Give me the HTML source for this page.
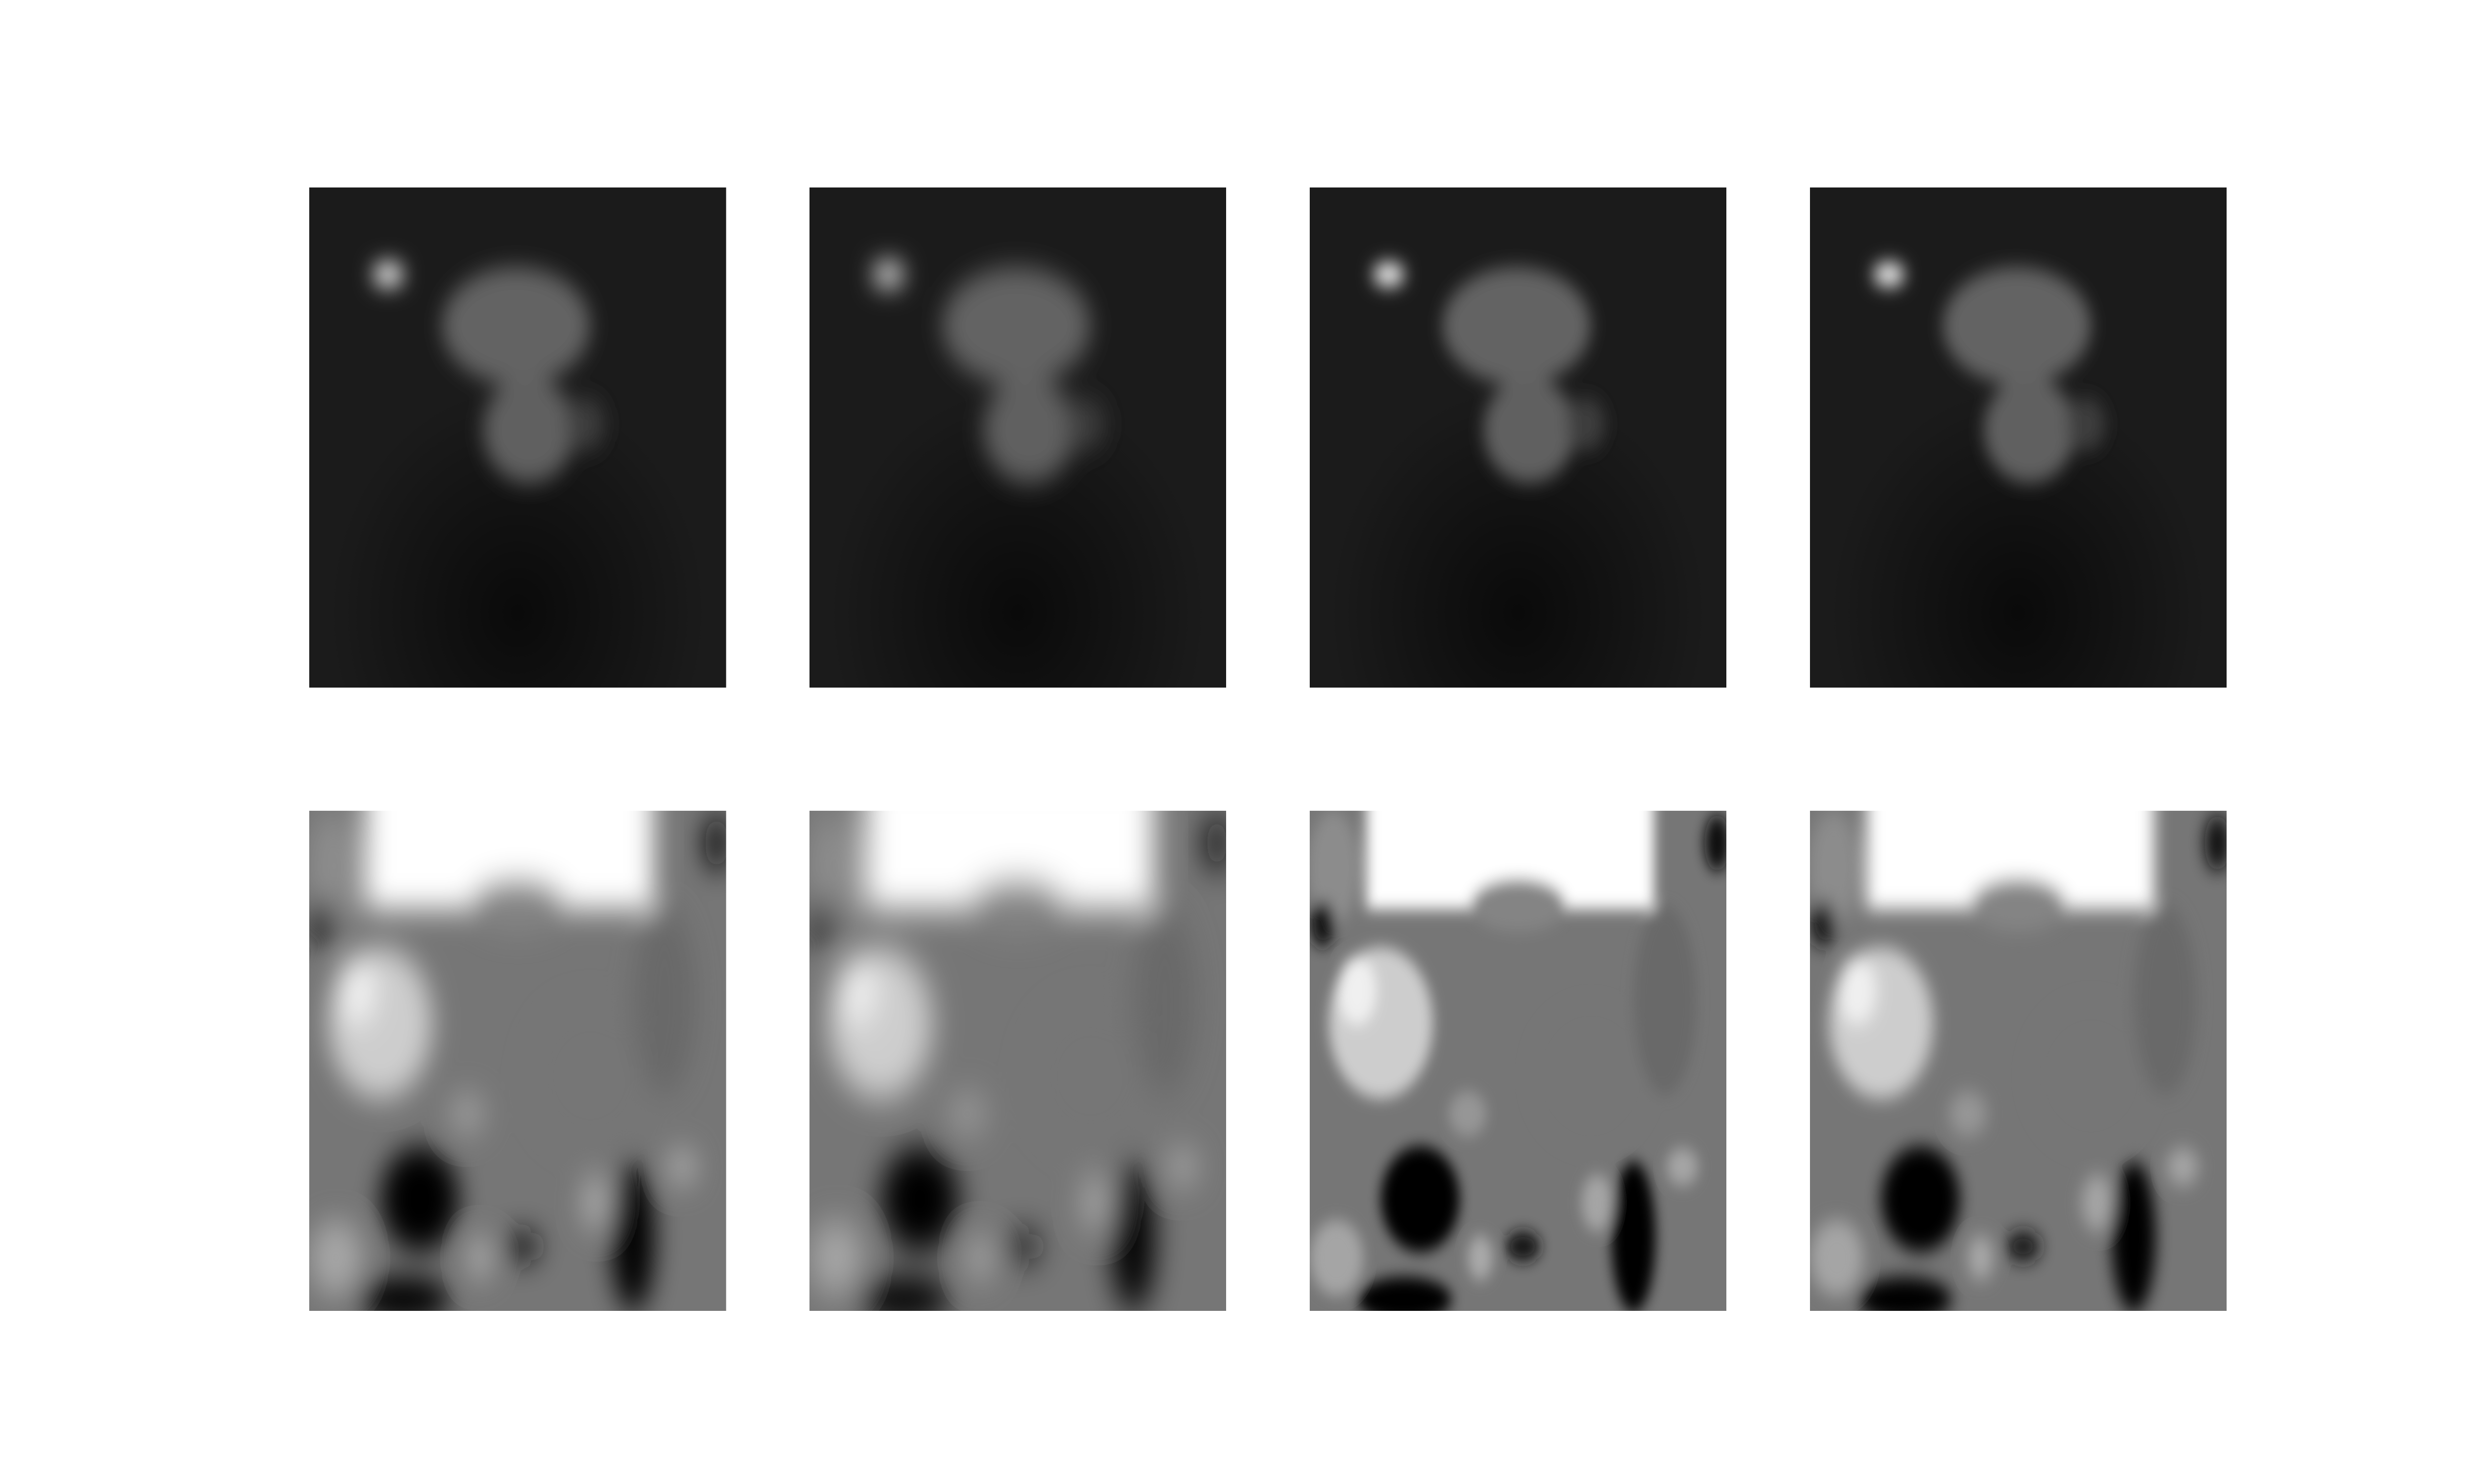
<!DOCTYPE html>
<html><head><meta charset="utf-8"><style>
html,body{margin:0;padding:0;background:#fff;width:100%;height:100%;overflow:hidden}
#fig{position:absolute;left:0;top:0;width:100vw;height:100vh}
svg.p{position:absolute;width:16.85%;height:33.7%}
</style></head><body>
<div id="fig"></div>
<script>
const colX=[750,1963,3176,4389];
const rowY=[379,1639];
const topBlur=[6,7,5,5];
const botBlur=[8,9,4,5];
// top row shapes: [cx,cy,rx,ry,gray]
const topShapes=[[131,73,47,31,100],[139,128,29,28,96],[175,125,12,14,60],[50,46,10,6,255],[50,46,5,3,255]];
// bottom row rectangles: [x,y,w,h,gray]
const botRects=[[36,-20,182,72,255]];
// bottom row shapes
const botShapes=[[15,30,16,30,140],[132,50,30,14,132],[8,60,8,12,20],[45,112,33,40,205],[30,95,12,18,240],[178,140,40,40,118],[225,100,20,50,105],[70,205,25,28,0],[60,258,30,12,5],[205,225,14,40,3],[135,230,11,8,20],[182,207,10,15,165],[108,236,8,12,170],[17,236,17,20,165],[236,188,10,10,165],[258,17,8,15,15],[100,160,12,12,150]];
const ns='http://www.w3.org/2000/svg';
const fig=document.getElementById('fig');
rowY.forEach((y,r)=>colX.forEach((x,c)=>{
  const s=document.createElementNS(ns,'svg');
  s.setAttribute('class','p');
  
  
  s.setAttribute('viewBox','0 0 264 264');
  s.setAttribute('preserveAspectRatio','none');
  s.style.left=(x/60)+'%';s.style.top=(y/30)+'%';
  const id='f'+r+c;
  const sd=r?botBlur[c]:topBlur[c];
  s.innerHTML=`<defs><filter id="${id}" filterUnits="userSpaceOnUse" x="-100" y="-100" width="464" height="464"><feGaussianBlur stdDeviation="${sd}"/></filter><clipPath id="c${id}"><rect width="264" height="264"/></clipPath><radialGradient id="dk${id}" cx="0.5" cy="0.85" r="0.45"><stop offset="0" stop-color="#0a0a0a"/><stop offset="1" stop-color="#1b1b1b"/></radialGradient></defs>`;
  const g=document.createElementNS(ns,'g');
  g.setAttribute('clip-path',`url(#c${id})`);
  const bg=document.createElementNS(ns,'rect');
  
  
  bg.setAttribute('width',264);bg.setAttribute('height',264);
  bg.setAttribute('fill',r?'#767676':`url(#dk${id})`);
  g.appendChild(bg);
  const gi=document.createElementNS(ns,'g');
  gi.setAttribute('filter',`url(#${id})`);
  if(r){botRects.forEach(d=>{
    const e=document.createElementNS(ns,'rect');
    
    
    e.setAttribute('x',d[0]);e.setAttribute('y',d[1]);
    e.setAttribute('width',d[2]);e.setAttribute('height',d[3]);
    e.setAttribute('fill',`rgb(${d[4]},${d[4]},${d[4]})`);
    gi.appendChild(e);
  });}
  (r?botShapes:topShapes).forEach(d=>{
    const e=document.createElementNS(ns,'ellipse');
    
    
    e.setAttribute('cx',d[0]);e.setAttribute('cy',d[1]);
    e.setAttribute('rx',d[2]);e.setAttribute('ry',d[3]);
    e.setAttribute('fill',`rgb(${d[4]},${d[4]},${d[4]})`);
    gi.appendChild(e);
  });
  g.appendChild(gi);
  s.appendChild(g);
  fig.appendChild(s);
}));
</script>
</body></html>
